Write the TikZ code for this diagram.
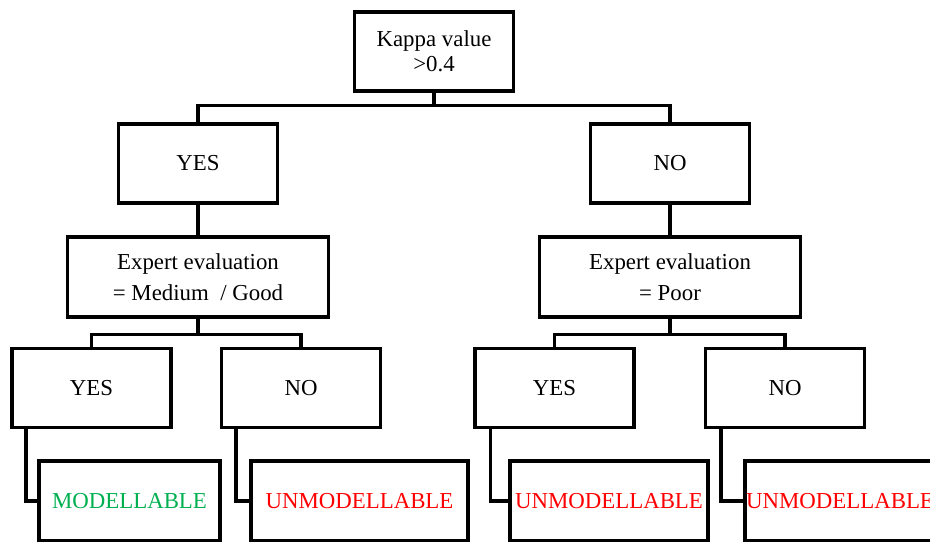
\documentclass[tikz,border=0pt]{standalone}
\usepackage{fontspec}
\setmainfont{Liberation Serif}
\usepackage{tikz}

\definecolor{okgreen}{RGB}{0,176,80}
\definecolor{badred}{RGB}{255,0,0}

\begin{document}
\begin{tikzpicture}[line width=1.8pt,
    every node/.style={font=\fontsize{13}{14}\selectfont},
    box/.style={draw, rectangle, align=center, inner sep=0pt, minimum width=3.18cm, minimum height=1.58cm},
    evalbox/.style={box, minimum width=5.23cm, minimum height=1.6cm, font=\fontsize{13}{17.6}\selectfont},
    result/.style={box, minimum height=1.6cm}]
	% page size of the reference (bottom row is cut off)
	\clip (0,0) rectangle (18.6,-10.82);
	
	% Root
	\node[box] (kappa) at (8.68,-1.03) {Kappa value\\>0.4};
	
	% First split
	\node[box] (yes) at (3.96,-3.27) {YES};
	\node[box] (no) at (13.40,-3.27) {NO};
	
	% Expert evaluation
	\node[evalbox] (evalyes) at (3.96,-5.54) {Expert evaluation\\= Medium~~/ Good};
	\node[evalbox] (evalno) at (13.40,-5.54) {Expert evaluation\\= Poor};
	
	% Second split
	\node[box] (yesA) at (1.83,-7.76) {YES};
	\node[box] (noA) at (6.02,-7.76) {NO};
	\node[box] (yesB) at (11.09,-7.76) {YES};
	\node[box] (noB) at (15.70,-7.76) {NO};
	
	% Outcomes
	\node[result, minimum width=3.62cm, text=okgreen] (resA) at (2.59,-10.02) {MODELLABLE};
	\node[result, minimum width=4.34cm, text=badred] (resB) at (7.19,-10.02) {UNMODELLABLE};
	\node[result, minimum width=3.96cm, text=badred] (resC) at (12.18,-10.02) {UNMODELLABLE};
	\node[result, minimum width=3.80cm, text=badred] (resD) at (16.80,-10.02) {UNMODELLABLE};
	
	% Tree lines
	\draw (kappa.south) -- ++(0,-0.26) coordinate (topbar);
	\draw (topbar) -| (yes.north);
	\draw (topbar) -| (no.north);
	\draw (yes.south) -- (evalyes.north);
	\draw (no.south) -- (evalno.north);
	
	\draw (evalyes.south) -- ++(0,-0.32) coordinate (barA);
	\draw (barA) -| (yesA.north);
	\draw (barA) -| (noA.north);
	\draw (evalno.south) -- ++(0,-0.32) coordinate (barB);
	\draw (barB) -| (yesB.north);
	\draw (barB) -| (noB.north);
	
	% Elbows to outcomes
	\draw ([xshift=0.31cm]yesA.south west) |- (resA.west);
	\draw ([xshift=0.32cm]noA.south west) |- (resB.west);
	\draw ([xshift=0.34cm]yesB.south west) |- (resC.west);
	\draw ([xshift=0.34cm]noB.south west) |- (resD.west);
\end{tikzpicture}
\end{document}
